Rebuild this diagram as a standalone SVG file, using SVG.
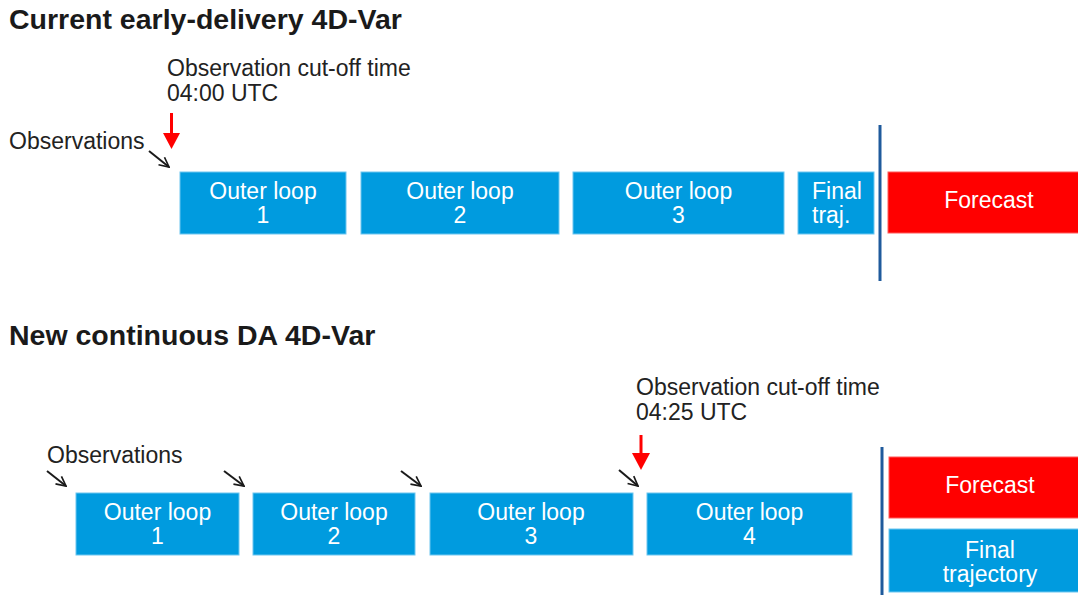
<svg xmlns="http://www.w3.org/2000/svg" width="1078" height="595" viewBox="0 0 1078 595">
<style>
text{font-family:"Liberation Sans",Arial,sans-serif;}
.title{font-size:28.5px;font-weight:bold;fill:#1a1a1a;}
.lbl{font-size:23px;fill:#222;}
.bt{font-size:23px;fill:#fff;text-anchor:middle;}
.blue{fill:#009bdf;stroke:#6cc6f0;stroke-width:1;}
.red{fill:#ff0000;stroke:#ff5a5a;stroke-width:1;}
.obs{stroke:#1a1a1a;stroke-width:2;fill:none;marker-end:url(#ah);}
.cut{stroke:#ff0000;stroke-width:3;}
.sep{stroke:#1f5a9c;stroke-width:3;}
</style>
<defs>
<marker id="ah" viewBox="0 0 10 10" refX="9" refY="5" markerWidth="6" markerHeight="6" orient="auto" markerUnits="strokeWidth">
<path d="M1,1 L9,5 L1,9" fill="none" stroke="#1a1a1a" stroke-width="1.4"/>
</marker>
</defs>
<rect width="1078" height="595" fill="#fff"/>

<text class="title" x="9" y="29">Current early-delivery 4D-Var</text>
<text class="lbl" x="167" y="76">Observation cut-off time</text>
<text class="lbl" x="167" y="101">04:00 UTC</text>
<text class="lbl" x="9" y="149">Observations</text>

<g id="top-loop1"><rect class="blue" x="180" y="172" width="166" height="62"/><text class="bt" x="263" y="199">Outer loop</text><text class="bt" x="263" y="223">1</text></g>
<g id="top-loop2"><rect class="blue" x="361" y="172" width="198" height="62"/><text class="bt" x="460" y="199">Outer loop</text><text class="bt" x="460" y="223">2</text></g>
<g id="top-loop3"><rect class="blue" x="573" y="172" width="211" height="62"/><text class="bt" x="678.5" y="199">Outer loop</text><text class="bt" x="678.5" y="223">3</text></g>
<g id="top-final"><rect class="blue" x="798" y="172" width="76" height="62"/><text class="lbl" x="812" y="199" style="fill:#fff">Final</text><text class="lbl" x="812" y="223" style="fill:#fff">traj.</text></g>
<g id="top-forecast"><rect class="red" x="888" y="172" width="192" height="61"/><text class="bt" x="989" y="208">Forecast</text></g>

<text class="title" x="9" y="345">New continuous DA 4D-Var</text>
<text class="lbl" x="636" y="395">Observation cut-off time</text>
<text class="lbl" x="636" y="420">04:25 UTC</text>
<text class="lbl" x="47" y="463">Observations</text>

<g id="bot-loop1"><rect class="blue" x="76" y="493" width="163" height="62"/><text class="bt" x="157.5" y="520">Outer loop</text><text class="bt" x="157.5" y="544">1</text></g>
<g id="bot-loop2"><rect class="blue" x="253" y="493" width="162" height="62"/><text class="bt" x="334" y="520">Outer loop</text><text class="bt" x="334" y="544">2</text></g>
<g id="bot-loop3"><rect class="blue" x="430" y="493" width="203" height="62"/><text class="bt" x="531" y="520">Outer loop</text><text class="bt" x="531" y="544">3</text></g>
<g id="bot-loop4"><rect class="blue" x="647" y="493" width="205" height="62"/><text class="bt" x="749.5" y="520">Outer loop</text><text class="bt" x="749.5" y="544">4</text></g>
<g id="bot-forecast"><rect class="red" x="889" y="457" width="191" height="61"/><text class="bt" x="990" y="493">Forecast</text></g>
<g id="bot-final"><rect class="blue" x="889" y="529" width="191" height="63"/><text class="bt" x="990" y="558">Final</text><text class="bt" x="990" y="582">trajectory</text></g>

<g id="connectors">
<line class="sep" x1="880" y1="125" x2="880" y2="281"/>
<line class="sep" x1="882" y1="447" x2="882" y2="595"/>
<line class="cut" x1="171.5" y1="113" x2="171.5" y2="135"/>
<polygon points="163,133 180,133 171.5,149" fill="#ff0000"/>
<line class="cut" x1="641" y1="435" x2="641" y2="455"/>
<polygon points="632,453 650,453 641,470" fill="#ff0000"/>
<line class="obs" x1="149" y1="151" x2="169" y2="167"/>
<line class="obs" x1="47" y1="471" x2="66" y2="486"/>
<line class="obs" x1="224" y1="471" x2="244" y2="486"/>
<line class="obs" x1="401" y1="471" x2="421" y2="486"/>
<line class="obs" x1="619" y1="470" x2="638" y2="486"/>
</g>
</svg>
